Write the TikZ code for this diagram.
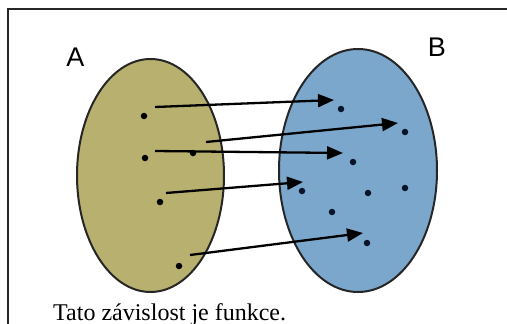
\documentclass[tikz,border=0pt]{standalone}
\usepackage{fontspec}
\setmainfont{Liberation Serif}
\newfontfamily\labelfont{Liberation Sans}
\usepackage{tikz}
\usepackage{xcolor}
\definecolor{SetOlive}{RGB}{183,176,110}
\definecolor{SetBlue}{RGB}{123,167,205}
\definecolor{DotNavy}{RGB}{10,20,40}
\usetikzlibrary{positioning, shapes.geometric, arrows.meta}

\begin{document}
\begin{tikzpicture}[x=1pt, y=-1pt,
  setbox/.style={ellipse, draw=black!85, line width=2pt, inner sep=0pt},
  dot/.style={circle, fill=black, inner sep=0pt, minimum size=6.5pt},
  bdot/.style={circle, fill=DotNavy, inner sep=0pt, minimum size=6.5pt},
  setlabel/.style={font=\labelfont\fontsize{27}{27}\selectfont},
  maparrow/.style={-{Triangle[length=16pt, width=13pt]}, line width=2.3pt, black}
]
\useasboundingbox (0,0) rectangle (507,324);
% frame
\draw[line width=2.2pt, black!85] (8,324) -- (8,9) -- (507,9);

% sets
\node[setbox, fill=SetOlive, minimum width=147pt, minimum height=233pt] (setA) at (150.5,175.5) {};
\node[setbox, fill=SetBlue, minimum width=158pt, minimum height=243pt] (setB) at (358,170.5) {};
\node[setlabel] (labA) at (75.5,57.5) {A};
\node[setlabel] (labB) at (437,47.5) {B};

% points of A
\node[dot] (a1) at (144,116) {};
\node[dot] (a2) at (145,158) {};
\node[dot] (a3) at (193,153) {};
\node[dot] (a4) at (160,202) {};
\node[dot] (a5) at (179,266) {};

% points of B
\node[bdot] (b1) at (341,109) {};
\node[bdot] (b2) at (405,132) {};
\node[bdot] (b3) at (353,162) {};
\node[bdot] (b4) at (302,191) {};
\node[bdot] (b5) at (368,193) {};
\node[bdot] (b6) at (405,188) {};
\node[bdot] (b7) at (332,212) {};
\node[bdot] (b8) at (367,243) {};

% arrow ends
\coordinate (s1) at (155,107); \coordinate (e1) at (334,100);
\coordinate (s2) at (206,142); \coordinate (e2) at (398,123);
\coordinate (s3) at (155,151); \coordinate (e3) at (343,153);
\coordinate (s4) at (166,193); \coordinate (e4) at (303,182);
\coordinate (s5) at (190,255); \coordinate (e5) at (363,233);

\foreach \i in {1,...,5}
  \draw[maparrow] (s\i) -- (e\i);

\node[anchor=base west, font=\fontsize{24}{24}\selectfont, inner sep=0pt] (caption) at (53,320) {Tato závislost je funkce.};
\end{tikzpicture}
\end{document}
